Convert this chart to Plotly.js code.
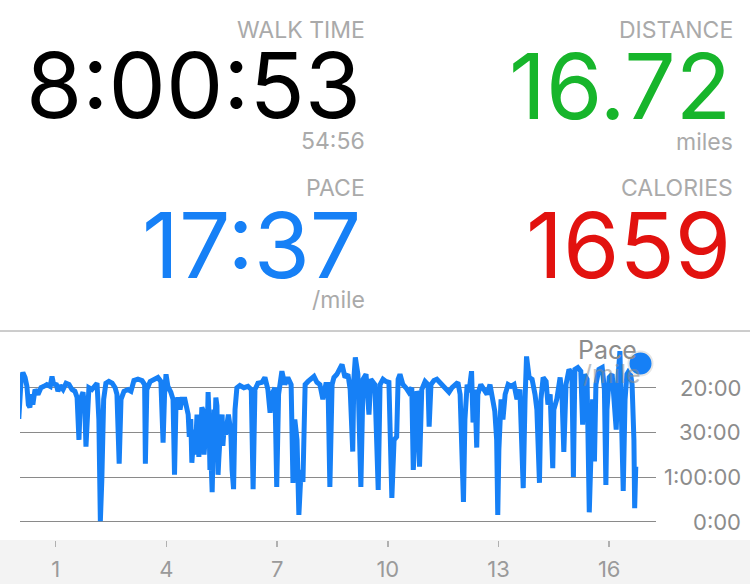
<!DOCTYPE html>
<html>
<head>
<meta charset="utf-8">
<script src="https://cdn.plot.ly/plotly-3.0.1.min.js"></script>
<style>
  html, body { margin: 0; padding: 0; background: #ffffff; }
  #chart { width: 750px; height: 584px; }
</style>
</head>
<body>
<div id="chart"></div>
<script>
// ---- Data ----
// distance along the walk, miles
const miles = [
  0.00,0.02,0.06,0.11,0.17,0.22,0.26,0.30,0.34,0.38,
  0.44,0.52,0.60,0.68,0.76,0.85,0.90,0.95,1.01,1.06,
  1.12,1.20,1.28,1.36,1.44,1.52,1.58,1.63,1.67,1.74,
  1.79,1.82,1.86,1.90,1.98,2.07,2.12,2.17,2.21,2.25,
  2.30,2.36,2.44,2.53,2.61,2.66,2.72,2.77,2.85,2.96,
  3.04,3.12,3.23,3.34,3.41,3.43,3.47,3.56,3.66,3.77,
  3.85,3.91,3.95,3.99,4.04,4.12,4.18,4.22,4.26,4.31,
  4.37,4.42,4.50,4.59,4.62,4.64,4.66,4.69,4.72,4.75,
  4.78,4.80,4.83,4.86,4.88,4.91,4.94,4.96,4.99,5.02,
  5.04,5.07,5.10,5.13,5.15,5.18,5.21,5.24,5.26,5.29,
  5.32,5.34,5.37,5.40,5.42,5.45,5.48,5.51,5.53,5.56,
  5.60,5.64,5.68,5.72,5.75,5.78,5.82,5.86,5.91,5.99,
  6.10,
  6.21,6.30,6.35,6.40,6.48,6.59,6.67,6.75,6.81,6.86,
  6.94,6.99,7.04,7.11,7.13,7.21,7.29,7.38,7.43,7.48,
  7.54,7.59,7.65,7.70,7.76,7.84,7.92,8.00,8.08,8.16,
  8.24,8.32,8.38,8.43,8.49,8.54,8.62,8.70,8.76,8.84,
  8.92,8.98,9.05,9.08,9.12,9.19,9.27,9.33,9.41,9.49,
  9.54,9.65,9.74,9.79,9.87,9.95,10.03,10.11,10.17,10.24,
  10.28,10.33,10.41,10.49,10.57,10.65,10.69,10.73,10.78,10.84,
  10.86,10.92,11.01,11.09,11.12,11.17,11.25,11.33,11.41,11.50,
  11.58,11.66,11.74,11.82,11.90,11.96,12.00,12.05,12.09,12.15,
  12.20,12.27,12.31,12.36,12.41,12.44,12.52,12.61,12.69,12.77,
  12.85,12.90,12.95,12.98,13.01,13.07,13.12,13.18,13.26,13.34,
  13.42,13.50,13.58,13.67,13.72,13.76,13.83,13.91,13.99,14.04,
  14.11,14.15,14.21,14.29,14.34,14.40,14.47,14.50,14.58,14.67,
  14.72,14.77,14.83,14.91,14.99,15.03,15.07,15.15,15.23,15.28,
  15.33,15.40,15.46,15.51,15.55,15.60,15.64,15.72,15.81,15.87,
  15.91,15.94,16.00,16.08,16.13,16.19,16.24,16.29,16.34,16.38,
  16.43,16.48,16.56,16.62,16.67,16.69,16.72
];
// speed, miles per hour (the chart's axis is linear in speed, labelled as pace)
const speedMph = [
  2.30,2.74,3.14,3.34,3.23,3.03,2.62,2.56,2.85,2.62,
  2.96,2.85,3.00,3.03,3.07,3.03,3.25,3.05,3.10,2.92,
  3.05,2.96,3.10,3.07,2.96,2.92,2.78,1.83,2.74,2.90,
  2.51,1.68,2.51,3.00,2.96,3.05,3.10,2.29,0.01,0.93,
  2.74,3.10,3.14,3.10,3.00,2.85,1.30,2.74,2.92,2.96,
  2.92,3.16,3.19,3.16,3.07,1.30,2.96,3.14,3.19,3.23,
  3.14,1.77,2.85,3.30,3.03,2.90,2.74,1.05,2.62,2.78,
  2.51,2.74,2.74,2.40,1.90,2.17,2.30,1.32,1.60,2.06,
  1.50,2.24,2.40,1.83,1.45,2.29,2.10,2.56,2.50,1.50,
  1.90,2.06,1.70,2.90,2.50,1.16,1.40,0.66,1.90,2.51,
  2.20,2.78,2.60,1.05,1.40,1.83,2.20,2.40,1.70,2.06,
  1.95,2.29,2.40,2.17,1.90,1.16,0.73,2.51,3.00,3.05,
  3.00,
  3.03,2.96,0.73,2.96,3.10,3.12,3.23,2.96,2.44,2.85,
  3.00,0.78,2.85,3.19,3.37,3.07,3.23,3.07,0.87,2.29,
  1.83,0.15,1.16,0.89,3.07,3.14,3.19,3.25,3.12,3.07,
  2.74,3.07,3.07,0.78,3.07,3.23,3.30,3.41,3.52,3.23,
  3.30,2.96,1.57,3.19,3.68,3.30,0.78,3.19,3.30,2.40,
  3.19,3.07,0.71,3.07,3.19,3.14,3.12,0.53,1.83,1.90,
  3.19,3.30,3.07,3.00,2.90,3.00,1.16,1.72,2.92,2.74,
  1.23,2.96,3.14,3.07,2.13,3.07,3.16,3.19,3.12,3.07,
  2.96,2.90,3.00,3.07,3.12,2.85,2.06,0.44,2.29,3.07,
  2.90,3.37,2.22,2.96,1.66,2.85,3.07,2.96,2.85,3.07,
  2.74,2.47,1.83,0.15,1.61,2.74,2.29,2.85,3.07,3.03,
  3.07,2.74,2.96,0.75,2.74,3.70,3.23,3.19,2.85,2.51,
  0.87,2.74,3.23,3.14,2.62,2.85,1.20,2.51,2.74,3.23,
  2.85,1.56,3.07,3.41,3.30,1.00,3.41,3.45,3.37,2.17,
  3.30,3.19,0.21,2.06,2.74,1.35,3.07,3.41,3.45,2.96,
  0.82,2.51,3.23,3.30,2.85,2.06,3.23,3.82,2.06,0.69,
  2.74,3.30,3.41,3.07,1.83,0.30,1.23
];
// axis ticks
const xTickVals = [1, 4, 7, 10, 13, 16];
const yTickVals = [0, 1, 2, 3];
const yTickText = ["0:00", "1:00:00", "30:00", "20:00"];

// summary stats
const statLabels = ["WALK TIME", "DISTANCE", "PACE", "CALORIES"];
const statValues = ["8:00:53", "16.72", "17:37", "1659"];
const statSubs   = ["54:56", "miles", "/mile", ""];

// ---- Styling ----
const BLUE = "#1680f6";
const GRAY_LABEL = "#aaaaaa";
const FONT = "Inter, 'Noto Sans', sans-serif";

// plot area in pixels: x 20..656, y 335..540
const L = 20, R = 656, T = 335, B = 540, W = 750, H = 584;
const px2x = p => (p - L) / (R - L);
const px2y = p => (B - p) / (B - T);

const annotations = [];
function addText(text, rightPx, centerPx, size, color) {
  annotations.push({
    text: text, xref: "paper", yref: "paper",
    x: px2x(rightPx), y: px2y(centerPx),
    xanchor: "right", yanchor: "middle",
    showarrow: false, font: {family: FONT, size: size, color: color}
  });
}
// left column
addText(statLabels[0], 367, 30, 23, GRAY_LABEL);
addText(statValues[0], 363, 85, 91, "#000000");
addText(statSubs[0],   367, 141, 23, GRAY_LABEL);
addText(statLabels[2], 367, 188, 23, GRAY_LABEL);
addText(statValues[2], 363, 245, 91, BLUE);
addText(statSubs[2],   367, 300, 23, GRAY_LABEL);
// right column
addText(statLabels[1], 735, 30, 23, GRAY_LABEL);
addText(statValues[1], 733, 86, 91, "#17b52b");
addText(statSubs[1],   735, 142, 23, GRAY_LABEL);
addText(statLabels[3], 735, 188, 23, GRAY_LABEL);
addText(statValues[3], 733, 245, 91, "#e2120f");

// y tick labels, right aligned
yTickVals.forEach((v, i) => {
  annotations.push({
    text: yTickText[i], xref: "paper", yref: "y",
    x: px2x(743), y: v, xanchor: "right", yanchor: "middle",
    showarrow: false, font: {family: FONT, size: 22, color: "#8c8c8c"}
  });
});
// series label
annotations.push({text: "Pace", xref: "paper", yref: "paper", x: px2x(607), y: px2y(350),
  xanchor: "center", yanchor: "middle", showarrow: false,
  font: {family: FONT, size: 25, color: "#8c8c8c"}});
annotations.push({text: "/mile", xref: "paper", yref: "paper", x: px2x(612), y: px2y(374),
  xanchor: "center", yanchor: "middle", showarrow: false, opacity: 0.55,
  font: {family: FONT, size: 25, color: "#8c8c8c"}});

const shapes = [
  // bottom gray band
  {type: "rect", xref: "paper", yref: "paper", x0: px2x(0), x1: px2x(W), y0: px2y(H), y1: px2y(B),
   fillcolor: "#f3f3f3", line: {width: 0}, layer: "below"},
  // separator line
  {type: "line", xref: "paper", yref: "paper", x0: px2x(0), x1: px2x(W), y0: px2y(331), y1: px2y(331),
   line: {color: "#9a9a9a", width: 1}, layer: "below"},
  // end marker circle
  {type: "circle", xref: "paper", yref: "paper", xsizemode: "pixel", ysizemode: "pixel",
   xanchor: px2x(640.5), yanchor: px2y(363.5), x0: -12, x1: 12, y0: -12, y1: 12,
   fillcolor: BLUE, line: {color: "#e6e6e6", width: 2}, layer: "above"}
];

const trace = {
  x: miles, y: speedMph, type: "scatter", mode: "lines",
  line: {color: BLUE, width: 5, shape: "linear"},
  hoverinfo: "skip"
};

const layout = {
  width: W, height: H,
  margin: {l: L, r: W - R, t: T, b: H - B, pad: 0},
  paper_bgcolor: "#ffffff", plot_bgcolor: "rgba(0,0,0,0)",
  showlegend: false,
  xaxis: {
    range: [(L - 18.8) / 36.9, (R - 18.8) / 36.9],
    tickvals: xTickVals, ticktext: xTickVals.map(String),
    ticks: "outside", ticklen: 6, tickwidth: 1.5, tickcolor: "#b0b0b0",
    showgrid: false, zeroline: false, showline: false,
    tickfont: {family: FONT, size: 22, color: "#9a9a9a"},
    ticklabelstandoff: 4
  },
  yaxis: {
    side: "right",
    range: [-0.41, 4.18],
    tickvals: yTickVals, showticklabels: false, ticks: "",
    showgrid: true, gridcolor: "#8a8a8a", gridwidth: 1,
    zeroline: false, showline: false
  },
  annotations: annotations,
  shapes: shapes
};

Plotly.newPlot("chart", [trace], layout, {displayModeBar: false, staticPlot: true});
</script>
</body>
</html>
